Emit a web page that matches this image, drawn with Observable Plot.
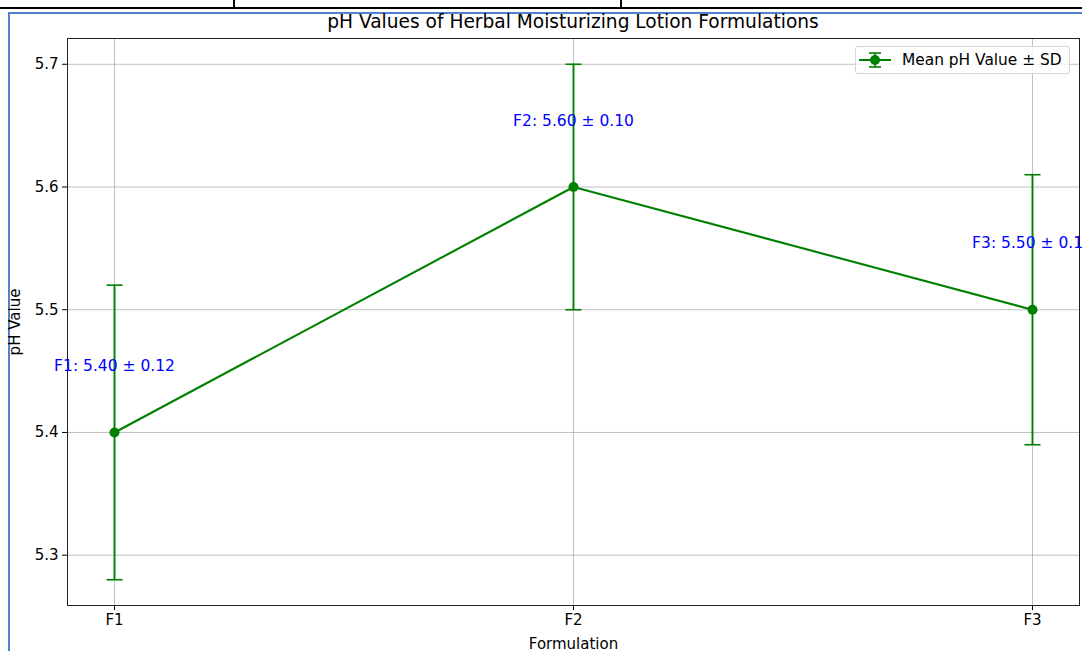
<!DOCTYPE html>
<html>
<head>
<meta charset="utf-8">
<script src="https://cdn.jsdelivr.net/npm/d3@7"></script>
<script src="https://cdn.jsdelivr.net/npm/@observablehq/plot@0.6"></script>
<style>
  html, body { margin: 0; padding: 0; background: #fff; }
  body { width: 1082px; height: 651px; position: relative; overflow: hidden; font-family: "DejaVu Sans", sans-serif; }
  .deco { position: absolute; }
  #chart { position: absolute; left: 0; top: 0; }
  #title { position: absolute; left: 67px; width: 1012px; top: 11px; text-align: center; font-size: 18.6px; color: #000; white-space: nowrap; }
  #legend { position: absolute; left: 855px; top: 46px; width: 215px; height: 28px; box-sizing: border-box;
            border: 1px solid #d6d6d6; border-radius: 3px; background: rgba(255,255,255,0.8);
            display: flex; align-items: center; font-size: 15.4px; color: #000; white-space: nowrap; }
  #legend svg { margin-left: 2px; margin-right: 10px; }
</style>
</head>
<body>
<div class="deco" style="left:0;top:7px;width:1082px;height:2px;background:#000"></div>
<div class="deco" style="left:233px;top:0;width:2px;height:8px;background:#000"></div>
<div class="deco" style="left:620px;top:0;width:2px;height:8px;background:#000"></div>
<div class="deco" style="left:8px;top:12px;width:1074px;height:2px;background:#5283c9"></div>
<div class="deco" style="left:8px;top:12px;width:2px;height:639px;background:#5283c9"></div>
<div id="chart"></div>
<div id="title">pH Values of Herbal Moisturizing Lotion Formulations</div>
<div id="legend"></div>
<script>
const formulations = ["F1", "F2", "F3"];
const meanPH = [5.40, 5.60, 5.50];
const sdPH = [0.12, 0.10, 0.11];
const yTicks = [5.3, 5.4, 5.5, 5.6, 5.7];

const green = "#008000";
const rows = formulations.map((f, i) => ({
  f, mean: meanPH[i], sd: sdPH[i],
  lo: meanPH[i] - sdPH[i], hi: meanPH[i] + sdPH[i],
  label: `${f}: ${meanPH[i].toFixed(2)} ± ${sdPH[i].toFixed(2)}`
}));

const capSymbol = {
  draw(ctx, size) {
    const w = Math.sqrt(size / Math.PI);
    ctx.moveTo(-w, 0);
    ctx.lineTo(w, 0);
  }
};

const chart = Plot.plot({
  width: 1082,
  height: 651,
  marginLeft: 67,
  marginRight: 3,
  marginTop: 38,
  marginBottom: 46,
  style: { fontFamily: "DejaVu Sans, sans-serif", fontSize: "15px", color: "#000", background: "transparent" },
  x: { type: "point", domain: formulations, padding: 0.1, label: "Formulation" },
  y: { domain: [5.259, 5.721], label: "pH Value" },
  marks: [
    Plot.gridY(yTicks, { stroke: "#b0b0b0", strokeOpacity: 1, strokeWidth: 0.8 }),
    Plot.gridX(formulations, { stroke: "#b0b0b0", strokeOpacity: 1, strokeWidth: 0.8 }),
    Plot.axisY({ ticks: yTicks, tickFormat: d3.format(".1f"), tickSize: 5, tickPadding: 4,
                 label: "pH Value", labelAnchor: "center", labelArrow: "none", labelOffset: 58, fontSize: 15 }),
    Plot.axisX({ tickSize: 5, tickPadding: 4, label: "Formulation", labelAnchor: "center",
                 labelArrow: "none", labelOffset: 43, fontSize: 15 }),
    Plot.frame({ stroke: "#222", strokeWidth: 1 }),
    Plot.ruleX(rows, { x: "f", y1: "lo", y2: "hi", stroke: green, strokeWidth: 1.9 }),
    Plot.dot(rows, { x: "f", y: "lo", symbol: capSymbol, r: 8, stroke: green, strokeWidth: 1.6, fill: "none" }),
    Plot.dot(rows, { x: "f", y: "hi", symbol: capSymbol, r: 8, stroke: green, strokeWidth: 1.6, fill: "none" }),
    Plot.line(rows, { x: "f", y: "mean", stroke: green, strokeWidth: 2.1 }),
    Plot.dot(rows, { x: "f", y: "mean", r: 5, fill: green, stroke: "none" }),
    Plot.text(rows, { x: "f", y: d => d.mean + 0.05, text: "label", fill: "#0000ff",
                      fontSize: 15.5, lineAnchor: "bottom", dy: 0, clip: false })
  ]
});
document.getElementById("chart").appendChild(chart);

// Legend
const leg = document.getElementById("legend");
leg.innerHTML = `<svg width="34" height="20" viewBox="0 0 34 20">
  <line x1="1" y1="10" x2="33" y2="10" stroke="${green}" stroke-width="2"/>
  <line x1="17" y1="3" x2="17" y2="17" stroke="${green}" stroke-width="1.6"/>
  <line x1="11" y1="3" x2="23" y2="3" stroke="${green}" stroke-width="1.6"/>
  <line x1="11" y1="17" x2="23" y2="17" stroke="${green}" stroke-width="1.6"/>
  <circle cx="17" cy="10" r="5" fill="${green}"/>
</svg><span>Mean pH Value ± SD</span>`;
</script>
</body>
</html>
